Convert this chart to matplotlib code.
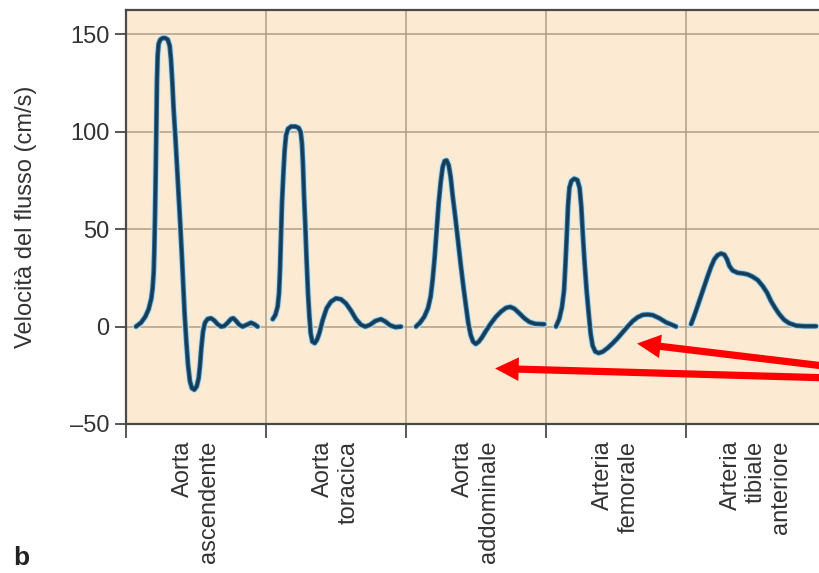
import matplotlib
matplotlib.use("Agg")
import matplotlib.pyplot as plt
import matplotlib.patheffects as pe
from matplotlib.transforms import blended_transform_factory

plt.rcParams['font.family'] = ['Liberation Sans', 'DejaVu Sans']

# Vessel names, one beat window each
vessels = ["Aorta\nascendente", "Aorta\ntoracica", "Aorta\naddominale",
           "Arteria\nfemorale", "Arteria\ntibiale\nanteriore"]

# Time inside each window (fraction of window) and flow velocity (cm/s)
t_asc = [0.071, 0.107, 0.138, 0.162, 0.181, 0.190, 0.198, 0.202, 0.207, 0.212,
         0.217, 0.221, 0.226, 0.233, 0.245, 0.262, 0.281, 0.298, 0.312, 0.321,
         0.331, 0.340, 0.352, 0.364, 0.376, 0.388, 0.400, 0.410, 0.419, 0.431,
         0.443, 0.457, 0.471, 0.488, 0.505, 0.519, 0.529, 0.538, 0.550, 0.564,
         0.583, 0.607, 0.631, 0.655, 0.679, 0.702, 0.726, 0.750, 0.767, 0.786,
         0.810, 0.833, 0.862, 0.893, 0.917, 0.940]
v_asc = [0.0, 2.0, 5.1, 9.0, 14.5, 19.6, 28.2, 38.4, 55.5, 77.6,
         103.2, 125.4, 139.1, 145.1, 147.3, 148.1, 148.1, 147.3, 144.2, 137.4,
         125.4, 111.8, 98.1, 82.8, 67.4, 52.0, 35.0, 19.6, 6.0, -7.7,
         -19.6, -28.2, -31.6, -32.4, -30.7, -26.5, -19.6, -11.1, -2.6, 2.0,
         3.9, 4.3, 3.1, 1.2, 0.0, 0.3, 2.0, 3.9, 4.3, 2.9,
         0.9, 0.0, 0.9, 2.0, 1.2, 0.0]

t_tor = [0.048, 0.067, 0.083, 0.093, 0.100, 0.107, 0.114, 0.124, 0.133, 0.143,
         0.157, 0.179, 0.210, 0.233, 0.248, 0.257, 0.264, 0.271, 0.281, 0.290,
         0.300, 0.310, 0.319, 0.331, 0.348, 0.364, 0.381, 0.405, 0.433, 0.464,
         0.500, 0.536, 0.571, 0.607, 0.643, 0.679, 0.710, 0.743, 0.781, 0.821,
         0.852, 0.886, 0.924, 0.964]
v_tor = [3.8, 6.0, 10.2, 17.1, 29.0, 46.1, 63.1, 78.5, 90.4, 98.1,
         101.5, 102.7, 102.7, 102.0, 99.8, 93.9, 83.6, 68.3, 51.2, 34.1,
         17.1, 5.1, -3.4, -7.7, -8.5, -6.8, -3.4, 3.4, 9.4, 12.8,
         14.5, 14.0, 11.9, 8.2, 3.8, 0.9, 0.0, 0.9, 2.9, 3.8,
         2.6, 0.7, -0.3, 0.0]

t_add = [0.071, 0.100, 0.131, 0.157, 0.176, 0.190, 0.205, 0.219, 0.233, 0.248,
         0.262, 0.276, 0.290, 0.305, 0.319, 0.333, 0.352, 0.371, 0.390, 0.410,
         0.429, 0.445, 0.462, 0.479, 0.498, 0.519, 0.543, 0.571, 0.607, 0.643,
         0.679, 0.714, 0.745, 0.774, 0.810, 0.845, 0.881, 0.924, 0.988]
v_add = [0.0, 2.0, 5.1, 9.4, 15.4, 23.9, 35.8, 49.5, 63.1, 74.2,
         81.9, 85.0, 85.3, 82.8, 76.8, 67.4, 56.3, 44.4, 32.4, 20.5,
         10.2, 1.7, -4.3, -7.7, -8.9, -7.8, -5.5, -2.2, 1.7, 5.1,
         7.7, 9.6, 10.1, 9.2, 6.8, 4.3, 2.4, 1.4, 1.2]

t_fem = [0.071, 0.095, 0.114, 0.129, 0.138, 0.148, 0.157, 0.167, 0.181, 0.202,
         0.224, 0.240, 0.252, 0.264, 0.276, 0.290, 0.305, 0.319, 0.333, 0.352,
         0.376, 0.405, 0.440, 0.476, 0.512, 0.548, 0.583, 0.619, 0.655, 0.690,
         0.726, 0.762, 0.810, 0.857, 0.900, 0.929]
v_fem = [0.0, 4.0, 10.0, 18.6, 30.7, 46.2, 61.7, 71.2, 74.7, 75.9,
         75.2, 71.2, 61.7, 46.2, 32.4, 18.6, 6.6, -3.8, -9.8, -12.8,
         -13.6, -12.9, -11.0, -8.6, -5.9, -2.9, 0.0, 2.8, 4.8, 6.0,
         6.2, 5.9, 4.3, 2.2, 0.9, 0.0]

t_tib = [0.036, 0.060, 0.083, 0.107, 0.131, 0.155, 0.179, 0.202, 0.226, 0.250,
         0.274, 0.293, 0.310, 0.333, 0.369, 0.405, 0.440, 0.476, 0.512, 0.548,
         0.579, 0.607, 0.638, 0.667, 0.702, 0.738, 0.786, 0.845, 0.929]
v_tib = [1.2, 5.8, 10.6, 15.7, 20.8, 25.9, 30.7, 34.5, 36.7, 37.5,
         36.9, 34.5, 31.1, 28.8, 27.6, 27.3, 26.8, 25.6, 23.9, 20.8,
         17.4, 13.1, 9.4, 6.3, 3.4, 1.7, 0.5, 0.2, 0.2]

beats_t = [t_asc, t_tor, t_add, t_fem, t_tib]
beats_v = [v_asc, v_tor, v_add, v_fem, v_tib]

y_ticks = [-50, 0, 50, 100, 150]
y_grid = [0, 50, 100, 150]

# Arrow annotations: (tip x, tip y, tail x, tail y) in window units / cm/s
arrow_specs = [(2.636, -21.5, 5.05, -26.4),
               (3.650, -8.7, 5.05, -20.8)]

bg = '#fcebd2'
grid_c = '#ae9f88'
ink = '#333333'

fig = plt.figure(figsize=(8.2, 5.73), dpi=100)
ax = fig.add_axes([126 / 820, 1 - 424 / 573, 1 - 126 / 820, (424 - 10) / 573])
ax.set_facecolor(bg)
ax.set_xlim(0, 694 / 140)
ax.set_ylim(-50, 162.5)

for g in y_grid:
    ax.axhline(g, color=grid_c, lw=1.1, zorder=1)
for i in range(1, len(vessels)):
    ax.axvline(i, color=grid_c, lw=1.1, zorder=1)

effects = [pe.Stroke(linewidth=4.8, foreground='#bfe4f5'),
           pe.Stroke(linewidth=3.4, foreground='#2a6892'),
           pe.Normal()]
for i, (ts, vs) in enumerate(zip(beats_t, beats_v)):
    xs = [i + t for t in ts]
    ax.plot(xs, vs, color='#183a52', lw=2.0, solid_joinstyle='round',
            solid_capstyle='round', zorder=3, path_effects=effects)

ax.spines['right'].set_visible(False)
for side in ('left', 'bottom', 'top'):
    ax.spines[side].set_color('#4a4a4a')
    ax.spines[side].set_linewidth(1.6)

ax.set_yticks(y_ticks)
ax.set_yticklabels([f"{v}".replace('-', '\u2013') for v in y_ticks])
ax.tick_params(axis='y', direction='out', length=8, width=1.3, color='#4a4a4a',
               labelsize=17, labelcolor=ink, pad=4)
ax.set_xticks(range(len(vessels)))
ax.set_xticklabels([])
ax.tick_params(axis='x', direction='out', length=10, width=1.3, color='#4a4a4a')

trans = blended_transform_factory(ax.transData, ax.transAxes)
for i, name in enumerate(vessels):
    ax.annotate(name, xy=(i + 0.5, 0), xycoords=trans, xytext=(0, -12),
                textcoords='offset points', rotation=90, ha='center', va='top',
                multialignment='right', fontsize=17, color=ink, linespacing=1.2)

ax.set_ylabel('Velocità del flusso (cm/s)', fontsize=17, color=ink)
ax.yaxis.set_label_coords(-0.128, 0.5)

for tx, ty, sx, sy in arrow_specs:
    ax.annotate('', xy=(tx, ty), xytext=(sx, sy), xycoords='data',
                annotation_clip=False,
                arrowprops=dict(arrowstyle='simple,head_length=0.85,head_width=0.85,tail_width=0.26',
                                mutation_scale=20, color='#ff0000', lw=0,
                                shrinkA=0, shrinkB=0), zorder=5)

fig.text(13 / 820, 1 - 570 / 573, 'b', fontsize=19, fontweight='bold',
         color='#222222', ha='left', va='bottom')

fig.savefig('out.png', dpi=100)
